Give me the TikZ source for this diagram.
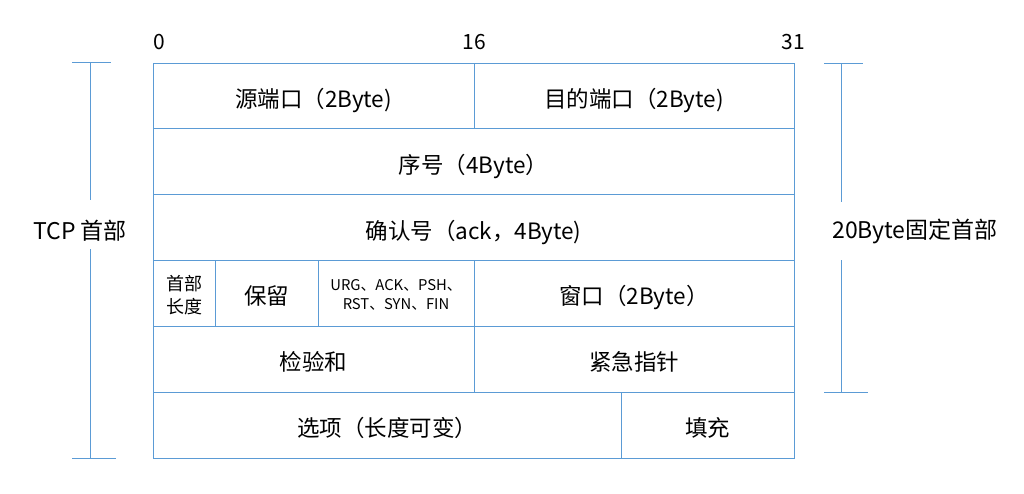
\documentclass[tikz,border=0pt]{standalone}
\usepackage{fontspec}
\setmainfont{Noto Sans CJK SC}
\definecolor{rule}{HTML}{5B9BD5}
\begin{document}
\begin{tikzpicture}[x=1pt,y=-1pt,
  cell/.style={draw=rule, line width=1pt, inner sep=0pt, align=center,
    font=\fontsize{22.5}{26}\selectfont},
  oneline/.style={text height=25pt, text depth=2pt},
  smalltxt/.style={font=\fontsize{18}{23}\selectfont, align=center, inner sep=0pt},
  flagtxt/.style={font=\fontsize{14.8}{19}\selectfont, align=center, inner sep=0pt},
  bitno/.style={font=\fontsize{21}{24}\selectfont, inner sep=0pt},
  sidetxt/.style={font=\fontsize{23}{26}\selectfont, inner sep=0pt},
  brace/.style={draw=rule, line width=1pt}]
\useasboundingbox (0,0) rectangle (1024,493);

% bit positions
\node[bitno] (b0)  at (159,42) {0};
\node[bitno] (b16) at (474,42) {16};
\node[bitno] (b31) at (793,42) {31};

% row 1
\node[cell, oneline, minimum width=321pt, minimum height=65.8pt] (srcport) at (313.5,95.9) {源端口（2Byte)};
\node[cell, oneline, minimum width=320pt, minimum height=65.8pt] (dstport) at (634,95.9) {目的端口（2Byte)};
% row 2
\node[cell, oneline, minimum width=641pt, minimum height=65.8pt] (seq) at (473.5,161.75) {序号（4Byte）};
% row 3
\node[cell, oneline, minimum width=641pt, minimum height=65.8pt] (ack) at (473.5,227.6) {确认号（ack，4Byte)};
% row 4
\node[cell, minimum width=62pt, minimum height=65.8pt] (hlen) at (184,293.4) {};
\node[smalltxt] (hlentxt) at ([yshift=-2pt]hlen.center) {首部\\长度};
\node[cell, oneline, minimum width=103pt, minimum height=65.8pt] (resv) at (266.5,293.4) {保留};
\node[cell, minimum width=156pt, minimum height=65.8pt] (flags) at (396,293.4) {};
\node[flagtxt] (flagstxt) at ([yshift=-1.5pt]flags.center) {URG、ACK、PSH、\\RST、SYN、FIN};
\node[cell, oneline, minimum width=320pt, minimum height=65.8pt] (win) at (634,293.4) {窗口（2Byte）};
% row 5
\node[cell, oneline, minimum width=321pt, minimum height=65.8pt] (chk) at (313.5,359.25) {检验和};
\node[cell, oneline, minimum width=320pt, minimum height=65.8pt] (urg) at (634,359.25) {紧急指针};
% row 6
\node[cell, oneline, minimum width=468pt, minimum height=65.8pt] (opt) at (387,425.1) {选项（长度可变）};
\node[cell, oneline, minimum width=173pt, minimum height=65.8pt] (pad) at (707.5,425.1) {填充};

% whole header bracket
\node[sidetxt] (hdr) at (80,231) {TCP 首部};
\coordinate (lt) at (90,62);
\coordinate (lb) at (90,458);
\draw[brace] (72,62) -- (111,62);
\draw[brace] (72,458) -- (116,458);
\draw[brace] (lt) -- (90,200);
\draw[brace] (90,249) -- (lb);

% fixed part bracket
\node[sidetxt] (fixed) at (915,231) {20Byte固定首部};
\coordinate (rt) at (841,63);
\coordinate (rb) at (841,392);
\draw[brace] (824,63) -- (863,63);
\draw[brace] (824,392) -- (868,392);
\draw[brace] (rt) -- (841,202);
\draw[brace] (841,260) -- (rb);
\end{tikzpicture}
\end{document}
